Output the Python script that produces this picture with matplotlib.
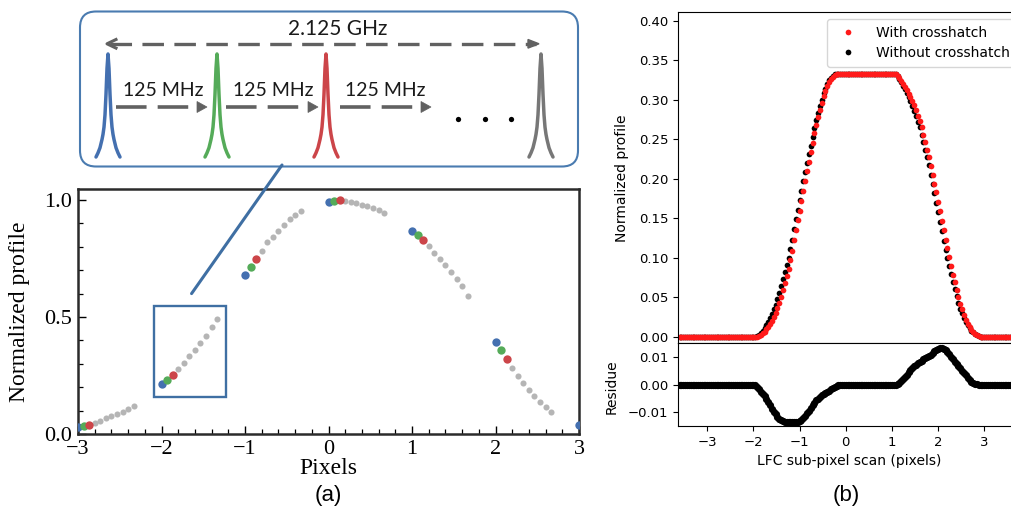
import numpy as np
import matplotlib
matplotlib.use("Agg")
import matplotlib.pyplot as plt
from matplotlib.patches import FancyBboxPatch, Rectangle, Polygon, ConnectionPatch
from matplotlib.ticker import MultipleLocator, FixedLocator, FormatStrFormatter

plt.rcParams["lines.scale_dashes"] = False

# ---------------- Panel (a) data ----------------
seg_starts = [-3, -2, -1, 0, 1, 2]
n_per_seg = 11          # 11 comb shifts per pixel segment (step = 1/15 pixel)
seg_values = [
    [0.029, 0.033, 0.039, 0.049, 0.057, 0.067, 0.076, 0.086, 0.096, 0.107, 0.121],
    [0.213, 0.231, 0.253, 0.276, 0.303, 0.333, 0.360, 0.389, 0.420, 0.456, 0.491],
    [0.680, 0.714, 0.746, 0.783, 0.819, 0.843, 0.869, 0.894, 0.917, 0.937, 0.951],
    [0.993, 0.997, 1.000, 0.996, 0.991, 0.986, 0.980, 0.973, 0.965, 0.957, 0.945],
    [0.867, 0.850, 0.827, 0.804, 0.773, 0.747, 0.723, 0.694, 0.663, 0.631, 0.590],
    [0.394, 0.357, 0.320, 0.283, 0.249, 0.220, 0.189, 0.161, 0.137, 0.116, 0.096],
]
last_x = [3.0]
last_y = [0.039]
zoom_box = [-2.09, 0.157, 0.865, 0.389]   # x, y, width, height (data units)

# ---------------- Panel (b) data ----------------
scan_x = np.round(np.arange(-3.60, 3.6001, 0.04), 2)   # 181 scan positions

without_rise = [0.0003, 0.001, 0.003, 0.005, 0.008, 0.011, 0.015, 0.019, 0.024, 0.029,
                0.035, 0.041, 0.048, 0.056, 0.064, 0.073, 0.082, 0.091, 0.100, 0.111,
                0.123, 0.136, 0.149, 0.161, 0.173, 0.185, 0.197, 0.209, 0.220, 0.231,
                0.242, 0.253, 0.264, 0.274, 0.283, 0.292, 0.300, 0.308, 0.314, 0.320,
                0.325, 0.328, 0.330, 0.332, 0.333, 0.333]
without_fall = [0.332, 0.330, 0.326, 0.323, 0.318, 0.313, 0.308, 0.303, 0.298, 0.292,
                0.286, 0.280, 0.272, 0.265, 0.256, 0.247, 0.237, 0.227, 0.217, 0.205,
                0.193, 0.182, 0.170, 0.158, 0.146, 0.134, 0.122, 0.110, 0.100, 0.090,
                0.080, 0.070, 0.061, 0.052, 0.043, 0.036, 0.030, 0.024, 0.019, 0.015,
                0.011, 0.008, 0.006, 0.004, 0.002, 0.001, 0.0]
with_rise = [0.0, 0.0, 0.0012, 0.0024, 0.0046, 0.0067, 0.0097, 0.0126, 0.0164, 0.0202,
             0.0251, 0.0301, 0.0362, 0.0435, 0.051, 0.0597, 0.0685, 0.0774, 0.0863, 0.0973,
             0.1093, 0.1223, 0.1353, 0.1474, 0.1597, 0.1722, 0.1849, 0.1976, 0.2095, 0.2215,
             0.2335, 0.2455, 0.2574, 0.2682, 0.2779, 0.2875, 0.296, 0.3045, 0.311, 0.3174,
             0.3228, 0.3263, 0.3288, 0.3312, 0.3325, 0.3327]
with_fall = [0.332, 0.330, 0.327, 0.324, 0.320, 0.316, 0.312, 0.307, 0.303, 0.298,
             0.293, 0.287, 0.280, 0.273, 0.265, 0.256, 0.247, 0.237, 0.227, 0.216,
             0.205, 0.194, 0.183, 0.171, 0.159, 0.147, 0.135, 0.123, 0.112, 0.101,
             0.090, 0.079, 0.069, 0.059, 0.050, 0.042, 0.035, 0.028, 0.022, 0.017,
             0.013, 0.009, 0.006, 0.004, 0.002, 0.001, 0.0]
plateau = 0.333
residue_dip = [-0.0003, -0.0010, -0.0018, -0.0026, -0.0034, -0.0043, -0.0053, -0.0064, -0.0076, -0.0088,
               -0.0099, -0.0109, -0.0118, -0.0125, -0.0130, -0.0133, -0.0135, -0.0136, -0.0137, -0.0137,
               -0.0137, -0.0137, -0.0137, -0.0136, -0.0133, -0.0128, -0.0121, -0.0114, -0.0105, -0.0095,
               -0.0085, -0.0075, -0.0066, -0.0058, -0.0051, -0.0045, -0.0040, -0.0035, -0.0030, -0.0026,
               -0.0022, -0.0017, -0.0012, -0.0008, -0.0005, -0.0003, -0.0002, -0.0001]
residue_bump = [0.0002, 0.0006, 0.0012, 0.0019, 0.0027, 0.0036, 0.0044, 0.0052, 0.0059, 0.0066,
                0.0072, 0.0077, 0.0082, 0.0087, 0.0091, 0.0095, 0.0099, 0.0104, 0.0109, 0.0115,
                0.0121, 0.0126, 0.0130, 0.0133, 0.0133, 0.0130, 0.0125, 0.0118, 0.0110, 0.0101,
                0.0092, 0.0083, 0.0075, 0.0067, 0.0059, 0.0050, 0.0041, 0.0033, 0.0025, 0.0017,
                0.0010, 0.0005, 0.0002, 0.0001]

without_y = [0.0] * 41 + without_rise + [plateau] * 30 + without_fall + [0.0] * 17
with_y = [0.0] * 41 + with_rise + [plateau] * 30 + with_fall + [0.0] * 17
residue_y = [0.0] * 41 + residue_dip + [0.0] * 29 + residue_bump + [0.0] * 19

# ---------------- Inset (schematic) ----------------
comb_colors = ["#4470b0", "#55ab59", "#cc4549", "#777777"]
peak_dx = [-12, -11, -10, -9, -8, -7, -6, -5, -4, -3, -2, -1, 0,
           1, 2, 3, 4, 5, 6, 7, 8, 9, 10, 11, 12]
peak_h = [0.0, 0.02, 0.04, 0.065, 0.09, 0.13, 0.17, 0.22, 0.29, 0.41, 0.61, 0.86, 1.0,
          0.86, 0.61, 0.41, 0.29, 0.22, 0.17, 0.13, 0.09, 0.065, 0.04, 0.02, 0.0]
span_label = "2.125 GHz"
step_label = "125 MHz"

# ---------------- Figure ----------------
W, H = 1012, 513
fig = plt.figure(figsize=(W / 100, H / 100), dpi=100)


def fx(px):
    return px / W


def fy(py):
    return 1 - py / H


SERIF = "Liberation Serif"
SANS = "Liberation Sans"

# ---- Panel (a) ----
ax_a = fig.add_axes([fx(78), fy(434), fx(579) - fx(78), fy(189) - fy(434)])
step = 1.0 / 15
for s, vals in zip(seg_starts, seg_values):
    xs = s + np.arange(n_per_seg) * step
    ax_a.plot(xs[3:], vals[3:], "o", color="#b5b5b5", ms=4.4, mec="none", zorder=3)
    for k, c in enumerate(comb_colors[:3]):
        ax_a.plot(xs[k], vals[k], "o", color=c, ms=6.0, mec="none", zorder=4)
ax_a.plot(last_x, last_y, "o", color=comb_colors[0], ms=6.0, mec="none", zorder=4)
ax_a.add_patch(Rectangle((zoom_box[0], zoom_box[1]), zoom_box[2], zoom_box[3],
                         fill=False, ec="#3f6fa3", lw=1.7, zorder=5))
ax_a.set_xlim(-3, 3)
ax_a.set_ylim(0, 1.047)
ax_a.xaxis.set_major_locator(FixedLocator([-3, -2, -1, 0, 1, 2, 3]))
ax_a.xaxis.set_minor_locator(MultipleLocator(0.2))
ax_a.yaxis.set_major_locator(FixedLocator([0.0, 0.5, 1.0]))
ax_a.yaxis.set_minor_locator(MultipleLocator(0.1))
ax_a.yaxis.set_major_formatter(FormatStrFormatter("%.1f"))
ax_a.set_xticklabels(["\u22123", "\u22122", "\u22121", "0", "1", "2", "3"])
ax_a.tick_params(which="major", direction="in", length=6, width=1.0, labelsize=16)
ax_a.tick_params(axis="x", which="major", pad=4.5)
ax_a.tick_params(axis="y", which="major", pad=4.0)
ax_a.tick_params(which="minor", direction="in", length=3.5, width=0.9)
for lab in ax_a.get_xticklabels() + ax_a.get_yticklabels():
    lab.set_fontfamily(SERIF)
for sp in ax_a.spines.values():
    sp.set_linewidth(1.8)
    sp.set_color("#2b2b2b")
fig.text(fx(20), fy(312), "Normalized profile", rotation=90, ha="center", va="center",
         fontsize=17, family=SERIF)
fig.text(fx(328), fy(468), "Pixels", ha="center", va="center", fontsize=17, family=SERIF)
fig.text(fx(328), fy(496), "(a)", ha="center", va="center", fontsize=16, family=SANS)

# ---- Panel (b) ----
bx0, bx1 = 678, 1030
ax_t = fig.add_axes([fx(bx0), fy(343), fx(bx1) - fx(bx0), fy(12) - fy(343)])
ax_r = fig.add_axes([fx(bx0), fy(426), fx(bx1) - fx(bx0), fy(343) - fy(426)], sharex=ax_t)
l_without, = ax_t.plot(scan_x, without_y, "o", color="black", ms=4.1, mec="none")
l_with, = ax_t.plot(scan_x, with_y, "o", color="#ff1a1a", ms=4.1, mec="none")
ax_r.plot(scan_x, residue_y, "o", color="black", ms=5.2, mec="none")
ax_t.set_xlim(-3.635, 3.99)
ax_t.set_ylim(-0.0076, 0.411)
ax_t.yaxis.set_major_locator(MultipleLocator(0.05))
ax_t.yaxis.set_major_formatter(FormatStrFormatter("%.2f"))
ax_t.tick_params(axis="x", bottom=False, labelbottom=False)
ax_t.tick_params(axis="y", labelsize=9.5)
ax_r.set_ylim(-0.0151, 0.0151)
ax_r.yaxis.set_major_locator(FixedLocator([-0.01, 0.0, 0.01]))
ax_r.set_yticklabels(["\u22120.01", "0.00", "0.01"])
ax_r.xaxis.set_major_locator(FixedLocator([-3, -2, -1, 0, 1, 2, 3]))
ax_r.tick_params(labelsize=9.5)
leg = ax_t.legend([l_with, l_without], ["With crosshatch", "Without crosshatch"],
                  loc="upper left", bbox_to_anchor=(fx(827), fy(19)),
                  bbox_transform=fig.transFigure, borderaxespad=0, fontsize=10,
                  handletextpad=1.0, numpoints=1, borderpad=0.5, labelspacing=0.45)
fig.text(fx(622), fy(178), "Normalized profile", rotation=90, ha="center", va="center",
         fontsize=10)
fig.text(fx(612), fy(387), "Residue", rotation=90, ha="center", va="center", fontsize=10)
fig.text(fx(849), fy(461), "LFC sub-pixel scan (pixels)", ha="center", va="center",
         fontsize=10)
fig.text(fx(846), fy(496), "(b)", ha="center", va="center", fontsize=16, family=SANS)

# ---- Inset overlay (pixel coordinates) ----
ov = fig.add_axes([0, 0, 1, 1], zorder=10)
ov.set_xlim(0, W)
ov.set_ylim(H, 0)
ov.axis("off")
ov.patch.set_alpha(0)

ov.add_patch(FancyBboxPatch((80, 11.5), 498, 155, boxstyle="round,pad=0,rounding_size=16",
                            ec="#4a7bb0", fc="white", lw=1.5))

peak_centers = [108, 217, 326, 541]
peak_base, peak_height = 157, 103
pdx = np.array(peak_dx)
ph = np.array(peak_h)
for cx, c in zip(peak_centers, comb_colors):
    ov.plot(cx + pdx, peak_base - ph * peak_height, color=c, lw=2.5,
            solid_capstyle="round", solid_joinstyle="round")

arrow_gray = "#616161"
# 2.125 GHz double-headed dashed arrow
ov.plot([110, 536], [43.8, 43.8], color=arrow_gray, lw=2.4, dashes=(15.5, 7.5))
ov.plot([116, 107, 116], [39.5, 43.8, 48.1], color=arrow_gray, lw=2.2)
ov.add_patch(Polygon([[528, 39.5], [539, 43.8], [528, 48.1]], closed=True, fc=arrow_gray,
                     ec=arrow_gray, lw=1))
ov.text(338, 29, span_label, ha="center", va="center", fontsize=15, family="Lato",
        color="#1a1a1a")

# 125 MHz steps
step_arrows = [(116, 207), (226, 318), (340, 431)]
step_text_x = [163, 273, 385]
for (x0, x1), tx in zip(step_arrows, step_text_x):
    ov.plot([x0, x1 - 9], [107, 107], color=arrow_gray, lw=2.6, dashes=(22, 8),
            solid_capstyle="butt")
    ov.add_patch(Polygon([[x1 - 10, 101.5], [x1, 107], [x1 - 10, 112.5]], closed=True,
                         fc=arrow_gray, ec=arrow_gray, lw=0.5))
    ov.text(tx, 91, step_label, ha="center", va="center", fontsize=14, family="Lato",
            color="#1a1a1a")

ov.plot([458, 485, 511], [119, 119, 119], "o", color="black", ms=3.8, mec="none")

# connector from the zoom box to the inset
con = ConnectionPatch(xyA=(-1.64, 0.60), coordsA=ax_a.transData,
                      xyB=(282, 165), coordsB=ov.transData, color="#3f6fa3", lw=2.2)
ov.add_artist(con)

fig.savefig("out.png", dpi=100)
